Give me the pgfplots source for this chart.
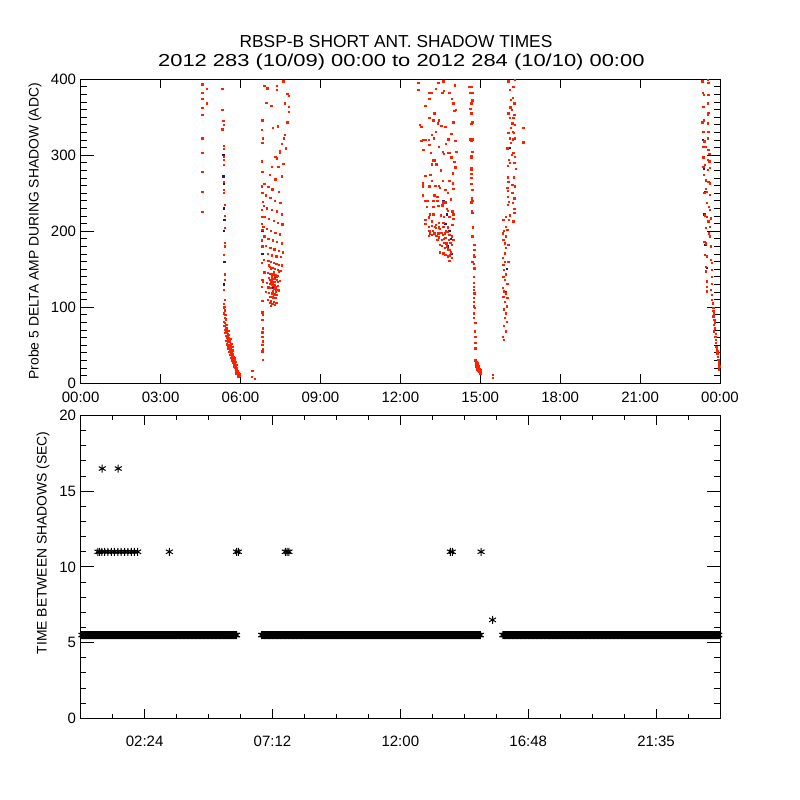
\documentclass[border=0pt]{standalone}
\usepackage{fontspec}
\setmainfont{Liberation Sans}
\usepackage{pgfplots}
\pgfplotsset{compat=1.18}
\definecolor{ptred}{RGB}{255,32,0}
\definecolor{ptdark}{RGB}{30,30,110}
\pgfplotsset{idl/.style={scale only axis, width=479.5pt, anchor=south west,
  axis line style={line width=0.75pt}, every tick/.style={black, line width=0.75pt},
  tick align=inside, ticklabel style={font=\fontsize{11.25}{13}\selectfont},
  /pgf/number format/assume math mode=true, clip mode=global,
  label style={font=\fontsize{10.4}{12}\selectfont}}}
\begin{document}
\begin{tikzpicture}
\useasboundingbox (0pt,0pt) rectangle (600pt,600pt);
\node[font=\fontsize{13}{15}\selectfont] at (297pt,568.5pt) {RBSP-B SHORT ANT. SHADOW TIMES};
\node[font=\fontsize{13}{15}\selectfont] at (301pt,553.5pt) {\scalebox{1.265}[1]{2012 283 (10/09) 00:00 to 2012 284 (10/10) 00:00}};
% ---------------- top panel
\begin{axis}[idl, at={(60.5pt,312.5pt)}, height=228pt,
  xmin=0, xmax=24, ymin=0, ymax=400,
  xtick={0,3,6,9,12,15,18,21,24},
  xticklabels={00:00,03:00,06:00,09:00,12:00,15:00,18:00,21:00,00:00},
  ytick={0,100,200,300,400}, minor y tick num=9,
  xtick style={/pgfplots/major tick length=6.75pt},
  ytick style={/pgfplots/major tick length=9.75pt, /pgfplots/minor tick length=4.5pt},
  xticklabel style={yshift=-2.8pt},
  ylabel={Probe 5 DELTA AMP DURING SHADOW (ADC)},
  ylabel style={at={(axis description cs:-0.0714,0.5)}, anchor=center},
]
\addplot[only marks, color=ptdark, mark=square*, mark size=0.5pt, mark options={draw=ptdark, fill=ptdark, line width=0pt}] coordinates {
(5.36,300)(5.36,272)(5.38,230)(5.39,200)(5.4,160)(5.39,130)(5.37,262)(5.4,215)
(13.62,240)(13.75,222)(13.85,200)(13.9,190)(13.8,180)(13.95,170)(13.7,210)
(23.36,320)(23.4,282)(23.45,252)(23.42,222)(23.46,182)(23.5,152)
(16.0,150)(15.95,120)(16.1,310)(7.3,140)(7.2,125)(6.82,200)(6.82,170)
};
\addplot[only marks, color=ptred, mark=square*, mark size=0.5pt, mark options={draw=ptred, fill=ptred, line width=0pt}] coordinates {
(4.57,393)(4.57,382)(4.57,374)(4.57,362)(4.57,353)(4.57,322)(4.57,303)(4.57,278)(4.57,252)(4.57,225)(4.75,387)(4.75,368)
(5.32,387)(5.32,360)(5.36,345)(5.37,340)(5.32,334)(5.39,312)(5.39,308)(5.39,298)(5.39,294)(5.39,287)(5.39,265)(5.39,254)(5.39,250)(5.41,235)(5.43,220)(5.43,204)(5.43,185)(5.43,180)(5.39,169)(5.43,143)(5.43,136)(5.39,123)(5.41,110)(5.39,99)
(5.38,104)(5.40,100)(5.42,96)(5.38,92)(5.44,90)(5.41,86)(5.46,84)(5.39,81)(5.43,79)(5.47,77)(5.40,75)
(5.45,73)(5.50,72)(5.43,70)(5.55,69)(5.48,67)(5.52,65)(5.58,64)(5.45,62)(5.50,60)(5.56,59)(5.62,58)(5.47,56)(5.53,55)(5.60,54)(5.66,52)(5.50,51)(5.57,50)(5.63,49)(5.70,48)
(5.55,46)(5.60,45)(5.67,44)(5.73,43)(5.58,41)(5.64,40)(5.70,39)(5.62,37)(5.68,36)(5.75,35)(5.66,33)(5.72,32)(5.78,31)(5.70,30)(5.76,29)(5.82,28)(5.74,27)
(5.80,25)(5.85,24)(5.78,22)(5.83,21)(5.88,20)(5.82,18)(5.86,17)(5.91,16)(5.85,15)(5.90,14)(5.94,13)(5.88,12)(5.93,11)(5.97,10)(5.92,9)
(5.49,68)(5.53,63)(5.59,57)(5.54,47)(5.65,47)(5.61,42)(5.69,41)(5.65,38)(5.73,37)(5.69,34)(5.77,33)(5.73,29)(5.79,27)(5.77,24)(5.83,23)(5.81,20)(5.87,19)(5.84,13)(5.96,12)(5.44,66)(5.52,58)
(6.82,346)(6.8,333)(6.84,322)(6.82,316)(6.8,292)(6.82,278)(6.8,259)(6.82,250)(6.84,239)(6.8,228)(6.82,219)(6.8,210)(6.82,202)(6.8,188)(6.82,180)(6.8,158)(6.82,136)(6.8,127)(6.82,108)(6.84,94)(6.83,93)(6.84,90)(6.83,83)(6.84,72)(6.83,67)(6.83,61)(6.84,55)(6.83,50)(6.84,45)(6.83,42)(6.84,31)
(6.45,16)(6.43,8)(6.55,6)(7.12,106)(7.18,104)(7.15,102)
(6.9,391)(7.01,388)(7.36,391)(7.38,386)(7.61,397)(7.76,381)(7.83,378)(7.68,368)(7.82,364)(6.97,369)(7.16,365)(7.83,357)(7.76,343)(7.68,327)(7.63,322)(7.42,338)(7.23,336)(7.55,315)(7.71,309)(7.48,306)(7.38,296)(7.61,289)(7.43,285)(7.32,298)(7.48,303)(7.17,285)(7.1,274)(7.55,272)(7.31,268)
(6.9,262)(7.05,258)(7.2,255)(7.45,252)(6.95,247)(7.12,244)(7.3,240)(7.5,237)(6.88,233)(7.0,230)(7.18,228)(7.38,226)(7.55,222)(6.92,219)(7.08,216)(7.25,214)(7.42,211)(7.58,209)(6.86,206)(7.0,203)(7.15,200)(7.32,198)(7.48,196)(6.9,193)(7.05,190)(7.22,188)(7.38,186)(7.55,184)(6.95,181)(7.12,178)(7.28,176)(7.45,174)(7.6,172)(7.02,170)(7.18,168)(7.35,167)(7.52,166)
(6.88,162)(7.05,161)(7.15,160)(7.25,158)(7.35,157)(7.45,156)(7.55,155)(7.1,153)(7.2,152)(7.3,150)(7.4,149)(7.5,148)(6.9,146)(7.02,145)(7.12,144)(7.22,143)(7.32,142)(7.42,141)(7.08,139)(7.18,138)(7.28,137)(7.38,136)(7.48,135)(6.85,133)(7.0,132)(7.1,131)(7.2,130)(7.3,129)(7.4,128)(7.05,126)(7.15,125)(7.25,124)(7.35,123)(7.45,122)(6.95,120)(7.08,119)(7.18,118)(7.28,117)(7.38,116)(7.12,114)(7.22,113)(7.32,112)(7.02,110)(7.15,108)(7.25,107)(7.35,106)(7.2,104)(7.3,103)
(7.14,150)(7.26,146)(7.36,140)(7.16,134)(7.24,128)(7.34,120)(7.06,155)(7.44,147)(7.18,142)(7.28,133)(7.32,126)(7.22,121)(7.4,133)(7.1,136)
(12.68,395)(12.68,386)(13.43,395)(13.62,397)(14.06,392)(13.09,382)(13.18,382)(13.34,387)(13.58,382)(13.65,385)(13.84,382)(13.09,374)(13.93,374)(13.99,368)(12.94,365)(14.03,358)(14.1,360)(13.28,355)(13.09,349)(13.44,346)(13.25,346)(13.99,343)(13.41,342)(13.54,339)(13.69,337)(12.75,340)(12.79,337)(13.35,331)(13.92,328)(13.2,327)(13.07,320)(13.26,322)(12.79,319)(12.87,320)(12.94,320)(13.81,321)(14.07,319)(13.72,315)(13.09,314)(13.44,311)(12.87,307)
(13.15,303)(13.59,304)(13.65,302)(13.81,303)(13.87,303)(13.92,297)(14.11,304)(13.24,293)(13.31,293)(14.03,291)(14.07,284)(13.18,288)(13.36,288)(13.53,280)(13.97,276)(12.94,273)(13.13,274)(13.19,266)(13.59,266)(13.84,266)(12.85,263)(12.85,259)(13.09,259)(13.32,260)(13.45,260)(13.98,263)(13.5,257)(13.69,254)(13.99,256)(12.85,247)(13.28,247)(13.4,245)(13.78,250)(13.91,242)(12.94,240)(13.03,240)(13.25,240)(13.39,240)(13.62,238)(13.72,238)(13.0,232)(13.24,232)(13.43,233)(13.58,234)(13.74,229)(13.79,227)(13.96,226)(13.12,222)(13.25,222)(13.52,221)(13.65,219)(13.85,219)(13.99,222)(13.99,216)(13.08,218)
(12.94,215)(12.94,210)(13.2,213)(13.34,208)(13.46,211)(13.62,211)(13.07,206)(13.18,207)(13.29,206)(13.45,205)(13.62,206)(13.96,208)(13.09,200)(13.23,200)(13.35,204)(13.43,197)(13.55,198)(13.67,197)(13.77,199)(13.84,195)(13.08,194)(13.2,195)(13.36,194)(13.46,192)(13.56,189)(13.69,191)(13.83,189)(13.94,193)(13.99,189)(13.63,185)(13.73,184)(13.93,182)(13.5,182)(13.56,181)(13.67,178)(13.78,176)(13.87,175)(13.5,172)(13.62,171)(13.7,169)(13.78,167)(13.87,168)(13.93,165)(13.84,161)(13.39,189)(13.28,197)(13.12,197)
(13.6,195)(13.72,200)(13.8,205)(13.5,203)(13.88,185)(13.75,180)(13.9,172)(13.65,190)
(14.58,390)(14.67,390)(14.62,382)(14.71,382)(14.67,368)(14.71,372)(14.63,361)(14.67,355)(14.71,343)(14.67,341)(14.63,321)(14.71,321)(14.67,319)(14.71,304)(14.67,299)(14.67,297)(14.67,283)(14.67,281)(14.67,275)(14.67,270)(14.67,262)(14.71,254)(14.68,243)(14.71,240)(14.67,238)(14.68,226)(14.71,224)(14.74,205)(14.71,193)(14.78,182)(14.78,175)(14.76,169)(14.78,166)(14.71,160)(14.77,157)(14.78,151)(14.76,140)(14.77,132)(14.77,127)(14.76,123)(14.78,118)(14.76,112)(14.77,107)(14.77,101)(14.81,99)(14.76,92)(14.76,86)(14.82,79)(14.81,68)(14.82,61)(14.82,53)(14.82,46)
(14.82,30)(14.84,26)(14.87,24)(14.89,22)(14.93,23)(14.96,20)(14.99,18)(15.02,15)(14.88,18)(14.94,17)(14.91,26)(14.98,13)(15.04,13)(14.85,22)(14.9,20)(14.95,15)(15.0,16)
(14.86,28)(14.92,19)(14.97,16)(15.01,12)(14.9,25)(14.96,22)(15.03,17)
(15.49,11)(15.49,7)
(16.06,397)(16.31,399)(16.25,390)(16.12,386)(16.22,375)(16.15,373)(16.27,368)(16.31,368)(16.13,363)(16.2,360)(16.06,355)(16.28,353)(16.12,349)(16.25,349)(16.21,342)(16.31,340)(16.15,336)(16.22,331)(16.06,329)(16.27,329)(16.12,322)(16.22,321)(16.31,322)(16.16,316)(16.02,309)(16.25,303)(16.2,300)(16.31,298)(16.08,294)(16.28,290)(16.12,290)(16.03,286)(16.33,282)(16.03,271)(16.27,271)(16.06,265)(16.21,261)(16.31,259)(16.02,257)(16.05,253)(16.21,250)(16.03,245)(16.28,243)(16.08,239)(16.03,235)(16.22,237)(16.28,229)(16.28,224)(16.12,221)(15.87,215)(15.97,219)(16.07,215)(16.25,213)
(15.97,206)(16.02,202)(15.9,200)(15.85,197)(15.97,193)(15.87,189)(15.93,184)(16.06,182)(15.97,178)(15.92,171)(15.85,165)(15.93,160)(16.06,160)(15.87,156)(15.9,149)(15.97,143)(15.87,140)(15.93,136)(16.02,131)(15.85,125)(15.9,121)(15.97,118)(16.02,112)(15.87,114)(15.93,107)(16.0,101)(15.9,97)(15.97,92)(15.93,86)(16.0,81)(15.9,75)(15.97,68)(15.85,61)(15.9,57)
(16.62,336)(16.62,317)
(23.34,397)(23.54,399)(23.57,395)(23.36,382)(23.41,379)(23.57,379)(23.54,368)(23.38,364)(23.57,356)(23.55,353)(23.41,346)(23.54,342)(23.34,343)(23.57,331)(23.38,331)(23.54,322)(23.42,318)(23.38,311)(23.48,311)(23.57,307)(23.61,302)(23.38,297)(23.54,294)(23.61,292)(23.44,287)(23.63,283)(23.38,285)(23.54,281)(23.41,274)(23.48,267)(23.57,265)(23.63,263)(23.47,256)(23.51,252)(23.42,250)(23.63,248)(23.51,237)(23.59,232)(23.63,228)(23.44,221)(23.51,219)(23.66,217)(23.57,213)(23.63,206)(23.48,204)(23.59,197)(23.63,193)(23.42,186)(23.47,184)(23.66,180)(23.44,169)(23.51,167)(23.67,162)(23.47,153)(23.71,158)(23.69,149)(23.48,147)(23.71,140)(23.51,134)(23.69,131)(23.51,127)(23.66,123)(23.71,116)(23.51,121)
(23.69,110)(23.73,105)(23.76,99)(23.78,92)(23.76,88)(23.79,83)(23.77,77)(23.81,72)(23.78,68)(23.83,61)(23.86,57)(23.84,53)(23.87,48)(23.88,45)(23.91,39)(23.92,35)(23.94,31)(23.96,26)(23.98,22)(23.97,18)
(23.75,95)(23.8,80)(23.85,65)(23.9,42)(23.95,28)
};
\end{axis}
% ---------------- bottom panel
\begin{axis}[idl, at={(60.5pt,61.3pt)}, height=227pt,
  xmin=0, xmax=24, ymin=0, ymax=20,
  xtick={2.4,7.2,12,16.8,21.6},
  xticklabels={02:24,07:12,12:00,16:48,21:35},
  minor xtick={1.2,3.6,4.8,6,8.4,9.6,10.8,13.2,14.4,15.6,18,19.2,20.4,22.8},
  ytick={0,5,10,15,20}, minor y tick num=4,
  xtick style={/pgfplots/major tick length=6.75pt, /pgfplots/minor tick length=3.5pt},
  ytick style={/pgfplots/major tick length=9.75pt, /pgfplots/minor tick length=4.2pt},
  xticklabel style={yshift=-10pt},
  ylabel={TIME BETWEEN SHADOWS (SEC)},
  ylabel style={at={(axis description cs:-0.0589,0.58)}, anchor=center},
]
% the three continuous runs of 5.5 s intervals (solid core of the overlapping marks)
\addplot[black, line width=5.4pt, line cap=butt] coordinates {(0,5.5)(5.85,5.5)};
\addplot[black, line width=5.4pt, line cap=butt] coordinates {(6.8,5.5)(15.0,5.5)};
\addplot[black, line width=5.4pt, line cap=butt] coordinates {(15.85,5.5)(24,5.5)};
\addplot[only marks, color=black, mark=asterisk, mark size=3pt, mark options={line width=0.9pt, black}] coordinates {
(0.05,5.5)(0.10,5.5)(0.15,5.5)(0.20,5.5)(0.25,5.5)(0.30,5.5)(0.35,5.5)(0.40,5.5)(0.45,5.5)(0.50,5.5)(0.55,5.5)(0.60,5.5)(0.65,5.5)(0.70,5.5)(0.75,5.5)(0.80,5.5)(0.85,5.5)(0.90,5.5)(0.95,5.5)(1.00,5.5)
(1.05,5.5)(1.10,5.5)(1.15,5.5)(1.20,5.5)(1.25,5.5)(1.30,5.5)(1.35,5.5)(1.40,5.5)(1.45,5.5)(1.50,5.5)(1.55,5.5)(1.60,5.5)(1.65,5.5)(1.70,5.5)(1.75,5.5)(1.80,5.5)(1.85,5.5)(1.90,5.5)(1.95,5.5)(2.00,5.5)
(2.05,5.5)(2.10,5.5)(2.15,5.5)(2.20,5.5)(2.25,5.5)(2.30,5.5)(2.35,5.5)(2.40,5.5)(2.45,5.5)(2.50,5.5)(2.55,5.5)(2.60,5.5)(2.65,5.5)(2.70,5.5)(2.75,5.5)(2.80,5.5)(2.85,5.5)(2.90,5.5)(2.95,5.5)(3.00,5.5)
(3.05,5.5)(3.10,5.5)(3.15,5.5)(3.20,5.5)(3.25,5.5)(3.30,5.5)(3.35,5.5)(3.40,5.5)(3.45,5.5)(3.50,5.5)(3.55,5.5)(3.60,5.5)(3.65,5.5)(3.70,5.5)(3.75,5.5)(3.80,5.5)(3.85,5.5)(3.90,5.5)(3.95,5.5)(4.00,5.5)
(4.05,5.5)(4.10,5.5)(4.15,5.5)(4.20,5.5)(4.25,5.5)(4.30,5.5)(4.35,5.5)(4.40,5.5)(4.45,5.5)(4.50,5.5)(4.55,5.5)(4.60,5.5)(4.65,5.5)(4.70,5.5)(4.75,5.5)(4.80,5.5)(4.85,5.5)(4.90,5.5)(4.95,5.5)(5.00,5.5)
(5.05,5.5)(5.10,5.5)(5.15,5.5)(5.20,5.5)(5.25,5.5)(5.30,5.5)(5.35,5.5)(5.40,5.5)(5.45,5.5)(5.50,5.5)(5.55,5.5)(5.60,5.5)(5.65,5.5)(5.70,5.5)(5.75,5.5)(5.80,5.5)(5.85,5.5)
(6.80,5.5)(6.85,5.5)(6.90,5.5)(6.95,5.5)(7.00,5.5)(7.05,5.5)(7.10,5.5)(7.15,5.5)(7.20,5.5)(7.25,5.5)(7.30,5.5)(7.35,5.5)(7.40,5.5)(7.45,5.5)(7.50,5.5)(7.55,5.5)(7.60,5.5)(7.65,5.5)(7.70,5.5)(7.75,5.5)(7.80,5.5)(7.85,5.5)(7.90,5.5)(7.95,5.5)
(8.00,5.5)(8.05,5.5)(8.10,5.5)(8.15,5.5)(8.20,5.5)(8.25,5.5)(8.30,5.5)(8.35,5.5)(8.40,5.5)(8.45,5.5)(8.50,5.5)(8.55,5.5)(8.60,5.5)(8.65,5.5)(8.70,5.5)(8.75,5.5)(8.80,5.5)(8.85,5.5)(8.90,5.5)(8.95,5.5)
(9.00,5.5)(9.05,5.5)(9.10,5.5)(9.15,5.5)(9.20,5.5)(9.25,5.5)(9.30,5.5)(9.35,5.5)(9.40,5.5)(9.45,5.5)(9.50,5.5)(9.55,5.5)(9.60,5.5)(9.65,5.5)(9.70,5.5)(9.75,5.5)(9.80,5.5)(9.85,5.5)(9.90,5.5)(9.95,5.5)
(10.00,5.5)(10.05,5.5)(10.10,5.5)(10.15,5.5)(10.20,5.5)(10.25,5.5)(10.30,5.5)(10.35,5.5)(10.40,5.5)(10.45,5.5)(10.50,5.5)(10.55,5.5)(10.60,5.5)(10.65,5.5)(10.70,5.5)(10.75,5.5)(10.80,5.5)(10.85,5.5)(10.90,5.5)(10.95,5.5)
(11.00,5.5)(11.05,5.5)(11.10,5.5)(11.15,5.5)(11.20,5.5)(11.25,5.5)(11.30,5.5)(11.35,5.5)(11.40,5.5)(11.45,5.5)(11.50,5.5)(11.55,5.5)(11.60,5.5)(11.65,5.5)(11.70,5.5)(11.75,5.5)(11.80,5.5)(11.85,5.5)(11.90,5.5)(11.95,5.5)
(12.00,5.5)(12.05,5.5)(12.10,5.5)(12.15,5.5)(12.20,5.5)(12.25,5.5)(12.30,5.5)(12.35,5.5)(12.40,5.5)(12.45,5.5)(12.50,5.5)(12.55,5.5)(12.60,5.5)(12.65,5.5)(12.70,5.5)(12.75,5.5)(12.80,5.5)(12.85,5.5)(12.90,5.5)(12.95,5.5)
(13.00,5.5)(13.05,5.5)(13.10,5.5)(13.15,5.5)(13.20,5.5)(13.25,5.5)(13.30,5.5)(13.35,5.5)(13.40,5.5)(13.45,5.5)(13.50,5.5)(13.55,5.5)(13.60,5.5)(13.65,5.5)(13.70,5.5)(13.75,5.5)(13.80,5.5)(13.85,5.5)(13.90,5.5)(13.95,5.5)
(14.00,5.5)(14.05,5.5)(14.10,5.5)(14.15,5.5)(14.20,5.5)(14.25,5.5)(14.30,5.5)(14.35,5.5)(14.40,5.5)(14.45,5.5)(14.50,5.5)(14.55,5.5)(14.60,5.5)(14.65,5.5)(14.70,5.5)(14.75,5.5)(14.80,5.5)(14.85,5.5)(14.90,5.5)(14.95,5.5)(15.00,5.5)
(15.85,5.5)(15.90,5.5)(15.95,5.5)(16.00,5.5)(16.05,5.5)(16.10,5.5)(16.15,5.5)(16.20,5.5)(16.25,5.5)(16.30,5.5)(16.35,5.5)(16.40,5.5)(16.45,5.5)(16.50,5.5)(16.55,5.5)(16.60,5.5)(16.65,5.5)(16.70,5.5)(16.75,5.5)(16.80,5.5)(16.85,5.5)(16.90,5.5)(16.95,5.5)
(17.00,5.5)(17.05,5.5)(17.10,5.5)(17.15,5.5)(17.20,5.5)(17.25,5.5)(17.30,5.5)(17.35,5.5)(17.40,5.5)(17.45,5.5)(17.50,5.5)(17.55,5.5)(17.60,5.5)(17.65,5.5)(17.70,5.5)(17.75,5.5)(17.80,5.5)(17.85,5.5)(17.90,5.5)(17.95,5.5)
(18.00,5.5)(18.05,5.5)(18.10,5.5)(18.15,5.5)(18.20,5.5)(18.25,5.5)(18.30,5.5)(18.35,5.5)(18.40,5.5)(18.45,5.5)(18.50,5.5)(18.55,5.5)(18.60,5.5)(18.65,5.5)(18.70,5.5)(18.75,5.5)(18.80,5.5)(18.85,5.5)(18.90,5.5)(18.95,5.5)
(19.00,5.5)(19.05,5.5)(19.10,5.5)(19.15,5.5)(19.20,5.5)(19.25,5.5)(19.30,5.5)(19.35,5.5)(19.40,5.5)(19.45,5.5)(19.50,5.5)(19.55,5.5)(19.60,5.5)(19.65,5.5)(19.70,5.5)(19.75,5.5)(19.80,5.5)(19.85,5.5)(19.90,5.5)(19.95,5.5)
(20.00,5.5)(20.05,5.5)(20.10,5.5)(20.15,5.5)(20.20,5.5)(20.25,5.5)(20.30,5.5)(20.35,5.5)(20.40,5.5)(20.45,5.5)(20.50,5.5)(20.55,5.5)(20.60,5.5)(20.65,5.5)(20.70,5.5)(20.75,5.5)(20.80,5.5)(20.85,5.5)(20.90,5.5)(20.95,5.5)
(21.00,5.5)(21.05,5.5)(21.10,5.5)(21.15,5.5)(21.20,5.5)(21.25,5.5)(21.30,5.5)(21.35,5.5)(21.40,5.5)(21.45,5.5)(21.50,5.5)(21.55,5.5)(21.60,5.5)(21.65,5.5)(21.70,5.5)(21.75,5.5)(21.80,5.5)(21.85,5.5)(21.90,5.5)(21.95,5.5)
(22.00,5.5)(22.05,5.5)(22.10,5.5)(22.15,5.5)(22.20,5.5)(22.25,5.5)(22.30,5.5)(22.35,5.5)(22.40,5.5)(22.45,5.5)(22.50,5.5)(22.55,5.5)(22.60,5.5)(22.65,5.5)(22.70,5.5)(22.75,5.5)(22.80,5.5)(22.85,5.5)(22.90,5.5)(22.95,5.5)
(23.00,5.5)(23.05,5.5)(23.10,5.5)(23.15,5.5)(23.20,5.5)(23.25,5.5)(23.30,5.5)(23.35,5.5)(23.40,5.5)(23.45,5.5)(23.50,5.5)(23.55,5.5)(23.60,5.5)(23.65,5.5)(23.70,5.5)(23.75,5.5)(23.80,5.5)(23.85,5.5)(23.90,5.5)(23.95,5.5)
};
% isolated longer intervals
\addplot[only marks, color=black, mark=asterisk, mark size=3pt, mark options={line width=0.75pt, black}] coordinates {
(0.65,11)(0.71,11)(0.8,11)(0.9,11)(1.02,11)(1.15,11)(1.27,11)(1.4,11)(1.52,11)(1.65,11)(1.77,11)(1.9,11)(2.02,11)(2.14,11)
(3.33,11)(5.85,11)(5.92,11)(7.68,11)(7.75,11)(7.82,11)(13.88,11)(13.95,11)(15.03,11)
(0.81,16.5)(1.41,16.5)(15.46,6.5)
};
\end{axis}
\end{tikzpicture}
\end{document}
